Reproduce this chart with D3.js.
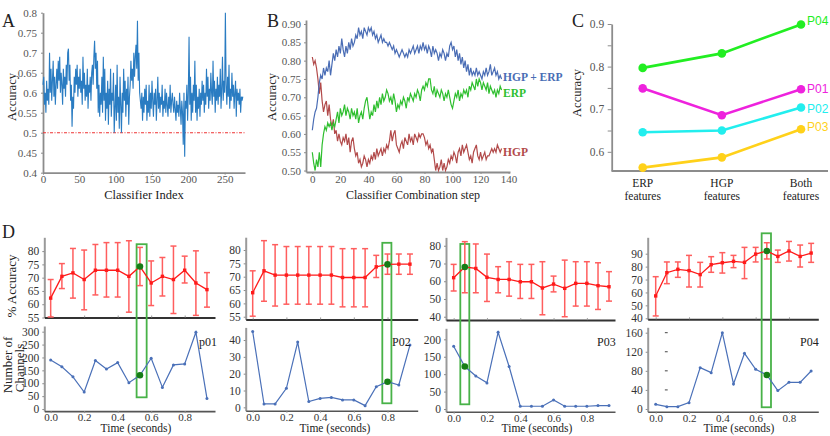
<!DOCTYPE html>
<html><head><meta charset="utf-8">
<script src="https://cdn.jsdelivr.net/npm/d3@7"></script>
<style>body{margin:0;background:#fff}svg{display:block;background:#fff}</style>
</head><body><svg id="c" width="830" height="436"></svg>
<script>
// ---------- DATA ----------
// Panel A: accuracy of each classifier
const classifierAccuracy = [
0.62,0.64,0.57,0.60,0.55,0.63,0.58,0.61,0.57,0.70,0.60,0.66,0.58,0.63,0.68,0.59,0.64,0.57,0.62,0.66,
0.61,0.68,0.63,0.69,0.60,0.65,0.62,0.57,0.66,0.61,0.64,0.59,0.67,0.62,0.70,0.71,0.63,0.67,0.58,0.62,
0.515,0.59,0.56,0.64,0.60,0.66,0.62,0.67,0.59,0.64,0.61,0.66,0.60,0.63,0.57,0.69,0.61,0.65,0.58,0.62,
0.59,0.66,0.56,0.62,0.60,0.64,0.58,0.65,0.67,0.62,0.69,0.73,0.66,0.70,0.61,0.68,0.55,0.62,0.54,0.60,
0.57,0.64,0.55,0.69,0.58,0.66,0.53,0.60,0.56,0.63,0.52,0.61,0.57,0.66,0.54,0.60,0.58,0.65,0.50,0.56,
0.62,0.53,0.67,0.55,0.59,0.51,0.64,0.57,0.50,0.60,0.55,0.66,0.58,0.63,0.54,0.61,0.57,0.64,0.52,0.59,
0.62,0.68,0.63,0.66,0.61,0.70,0.64,0.69,0.72,0.66,0.78,0.63,0.70,0.60,0.58,0.56,0.60,0.53,0.59,0.55,
0.61,0.57,0.62,0.53,0.58,0.55,0.62,0.54,0.60,0.56,0.63,0.58,0.54,0.60,0.57,0.61,0.53,0.58,0.64,0.56,
0.60,0.55,0.59,0.57,0.62,0.54,0.58,0.56,0.61,0.55,0.60,0.57,0.54,0.59,0.56,0.62,0.55,0.58,0.60,0.57,
0.55,0.59,0.56,0.53,0.58,0.55,0.57,0.54,0.60,0.56,0.52,0.58,0.55,0.47,0.60,0.44,0.58,0.56,0.62,0.53,
0.60,0.74,0.57,0.64,0.53,0.60,0.55,0.62,0.58,0.68,0.55,0.62,0.53,0.59,0.56,0.61,0.54,0.60,0.57,0.63,
0.58,0.62,0.55,0.60,0.57,0.66,0.59,0.64,0.56,0.61,0.58,0.65,0.60,0.57,0.68,0.59,0.63,0.55,0.61,0.58,
0.64,0.57,0.62,0.59,0.66,0.56,0.61,0.69,0.58,0.63,0.60,0.80,0.62,0.57,0.64,0.59,0.67,0.56,0.61,0.58,
0.65,0.59,0.62,0.56,0.60,0.63,0.54,0.61,0.58,0.60,0.57,0.61,0.55,0.59,0.58,0.59];
const chanceLevel = 0.5;
const ticksAx = [0,50,100,150,200,250];
const ticksAy = [0.4,0.45,0.5,0.55,0.6,0.65,0.7,0.75,0.8];

// Panel B: accuracy per combination step
const stepHgpErp = [
0.61,0.64,0.66,0.67,0.70,0.74,0.76,0.75,0.78,0.76,
0.78,0.77,0.80,0.76,0.79,0.82,0.80,0.83,0.81,0.84,
0.82,0.86,0.83,0.81,0.84,0.82,0.85,0.83,0.86,0.84,
0.85,0.87,0.86,0.89,0.87,0.88,0.86,0.89,0.88,0.87,
0.89,0.88,0.89,0.87,0.88,0.86,0.87,0.85,0.86,0.87,
0.85,0.86,0.85,0.85,0.84,0.85,0.84,0.83,0.84,0.82,
0.83,0.82,0.81,0.82,0.83,0.82,0.81,0.82,0.81,0.83,
0.82,0.83,0.84,0.82,0.83,0.84,0.82,0.84,0.83,0.85,
0.83,0.84,0.82,0.84,0.83,0.81,0.84,0.82,0.83,0.82,
0.80,0.82,0.81,0.83,0.82,0.80,0.82,0.81,0.84,0.85,
0.83,0.84,0.81,0.83,0.80,0.82,0.79,0.81,0.78,0.80,
0.77,0.79,0.76,0.78,0.76,0.77,0.76,0.78,0.76,0.77,
0.76,0.75,0.77,0.76,0.78,0.76,0.77,0.79,0.76,0.77,
0.78,0.76,0.77,0.75,0.76,0.75];
const stepErp = [
0.55,0.52,0.50,0.53,0.51,0.55,0.51,0.57,0.60,0.62,
0.61,0.63,0.62,0.63,0.61,0.63,0.62,0.64,0.66,0.63,
0.67,0.65,0.66,0.68,0.65,0.67,0.66,0.64,0.67,0.65,
0.66,0.64,0.67,0.63,0.65,0.66,0.64,0.67,0.69,0.70,
0.67,0.64,0.66,0.65,0.68,0.66,0.69,0.67,0.70,0.68,
0.71,0.69,0.70,0.72,0.71,0.69,0.70,0.68,0.71,0.69,
0.66,0.68,0.67,0.69,0.68,0.70,0.69,0.67,0.70,0.69,
0.71,0.70,0.69,0.71,0.70,0.72,0.71,0.69,0.72,0.73,
0.72,0.74,0.73,0.75,0.75,0.72,0.71,0.73,0.70,0.72,
0.71,0.70,0.72,0.71,0.69,0.71,0.70,0.72,0.70,0.68,
0.67,0.69,0.71,0.70,0.72,0.69,0.71,0.70,0.72,0.71,
0.72,0.70,0.73,0.72,0.74,0.73,0.72,0.75,0.73,0.75,
0.74,0.72,0.74,0.73,0.72,0.74,0.71,0.73,0.72,0.71,
0.72,0.70,0.72,0.71,0.73,0.72];
const stepHgp = [
0.81,0.79,0.80,0.78,0.75,0.71,0.74,0.69,0.66,0.68,
0.69,0.65,0.68,0.64,0.62,0.64,0.60,0.61,0.58,0.60,
0.58,0.57,0.59,0.58,0.60,0.57,0.59,0.55,0.58,0.59,
0.56,0.54,0.55,0.52,0.53,0.51,0.52,0.54,0.53,0.51,
0.53,0.52,0.54,0.53,0.55,0.53,0.56,0.54,0.55,0.56,
0.54,0.56,0.55,0.57,0.56,0.58,0.61,0.58,0.60,0.61,
0.57,0.56,0.55,0.57,0.58,0.56,0.59,0.58,0.57,0.60,
0.58,0.59,0.57,0.60,0.59,0.58,0.60,0.59,0.60,0.60,
0.59,0.57,0.58,0.56,0.57,0.55,0.56,0.53,0.50,0.52,
0.50,0.51,0.53,0.50,0.52,0.50,0.51,0.53,0.52,0.54,
0.53,0.55,0.54,0.52,0.55,0.56,0.54,0.57,0.55,0.56,
0.57,0.55,0.53,0.54,0.52,0.55,0.56,0.57,0.54,0.53,
0.55,0.53,0.54,0.55,0.53,0.54,0.54,0.55,0.56,0.55,
0.56,0.55,0.57,0.56,0.55,0.56];
const ticksBx = [0,20,40,60,80,100,120,140];
const ticksBy = [0.50,0.55,0.60,0.65,0.70,0.75,0.80,0.85,0.90];

// Panel C
const featureSets = ["ERP","HGP","Both"];
const featureLabels = [["ERP","features"],["HGP","features"],["Both","features"]];
const participantsC = ["P04","P01","P02","P03"];
const accP04 = [0.797,0.831,0.899];
const accP01 = [0.749,0.686,0.747];
const accP02 = [0.646,0.650,0.704];
const accP03 = [0.563,0.587,0.653];
const ticksCy = [0.6,0.65,0.7,0.75,0.8,0.85,0.9];

// Panel D
const timePoints = [0,0.067,0.133,0.2,0.267,0.333,0.4,0.467,0.533,0.6,0.667,0.733,0.8,0.867,0.933];
const ticksDx = [0,0.2,0.4,0.6,0.8];
const d1Mean = [62.3,70.5,71.8,69.3,72.8,72.8,72.8,70.5,74.2,68.0,70.5,69.3,72.8,68.0,65.5];
const d1Low  = [55.2,65.9,62.3,57.9,63.5,62.7,62.7,57.0,67.0,59.5,63.1,56.5,68.0,55.8,58.9];
const d1High = [69.3,75.3,81.0,80.4,82.5,83.2,83.2,83.9,81.4,76.3,77.6,81.9,78.1,80.1,71.9];
const d1Channels = [190,164,125,66,188,155,180,102,131,197,84,171,175,298,41];
const d2Mean = [64.0,72.2,70.6,70.6,70.6,70.6,70.6,70.6,69.7,69.7,69.7,73.7,74.6,74.7,74.7];
const d2Low  = [55.2,60.8,59.0,59.7,59.7,59.7,59.7,59.7,58.7,58.7,58.7,69.7,70.9,70.9,70.9];
const d2High = [72.2,83.5,82.0,81.3,81.3,81.3,81.3,81.3,80.5,80.5,80.5,78.0,78.5,78.5,78.5];
const d2Channels = [45,2,2,11.3,38.8,3.4,5.3,5.9,4.4,4.4,1,12.3,15.2,13.3,37];
const d3Mean = [62.0,68.0,67.2,62.2,61.0,61.0,59.7,59.7,56.2,58.4,56.0,58.8,58.8,57.5,56.9];
const d3Low  = [54.5,53.5,53.5,48.6,53.5,51.6,50.3,50.3,41.1,54.0,40.0,46.0,46.0,44.1,48.8];
const d3High = [69.5,82.3,81.0,75.3,68.2,71.0,69.5,69.5,71.0,62.9,71.9,71.0,71.0,70.4,65.4];
const d3Channels = [180,122,95,75,220,122,8,8,8,26,8,8,8,10,10];
const d4Mean = [57.3,75.3,77.9,76.9,73.8,81.5,83.0,84.1,83.3,89.7,92.1,87.9,92.1,87.9,90.5];
const d4Low  = [41.8,66.8,71.7,64.2,64.2,75.6,75.0,79.2,70.7,83.6,85.9,83.3,84.3,79.7,83.3];
const d4High = [72.2,83.6,83.6,88.7,83.3,87.7,90.8,88.7,94.9,94.9,98.5,92.8,99.5,96.7,98.0];
const d4Channels = [9.8,4.9,4.9,13.3,86.7,76.2,160,52.4,116.8,83.2,71.3,38.5,55.9,55.9,79.7];
const dNames = ["p01","P02","P03","P04"];
const dBest = [8,12,1,10];

// ---------- DRAWING ----------
const SERIF = "Liberation Serif";
const SANS = "Liberation Sans";
const svg = d3.select("#c");
svg.append("rect").attr("width",830).attr("height",436).attr("fill","#fff");

function styleAxis(g, o) {
  g.attr("font-family", SERIF).attr("font-size", o.fs || 11);
  g.select(".domain").attr("stroke", o.line || "#8c8c8c").attr("stroke-width", o.lw || 1.8);
  g.selectAll(".tick line").attr("stroke", o.tick || "#8c8c8c");
  g.selectAll(".tick text").attr("fill", o.text || "#555");
}
function label(x, y, txt, o = {}) {
  const t = svg.append("text").attr("x", x).attr("y", y).text(txt)
    .attr("font-family", o.ff || SERIF).attr("font-size", o.fs || 12)
    .attr("fill", o.fill || "#222").attr("text-anchor", o.anchor || "start");
  if (o.bold) t.attr("font-weight", "bold");
  return t;
}
function vlabel(x, y, txt, fs) {
  svg.append("text").attr("transform", `translate(${x},${y}) rotate(-90)`)
    .attr("text-anchor", "middle").attr("font-family", SERIF).attr("font-size", fs || 12)
    .attr("fill", "#222").text(txt);
}

// ----- Panel A -----
{
  const x = d3.scaleLinear([0, 278], [43, 245]);
  const y = d3.scaleLinear([0.4, 0.8], [172.7, 12.7]);
  const gx = svg.append("g").attr("transform", "translate(0,172.7)")
    .call(d3.axisBottom(x).tickValues(ticksAx).tickSize(2).tickSizeOuter(0));
  gx.selectAll(".tick text").attr("y", 10.5).attr("dy", 0);
  styleAxis(gx, {});
  const gy = svg.append("g").attr("transform", "translate(43,0)")
    .call(d3.axisLeft(y).tickValues(ticksAy).tickSize(2).tickSizeOuter(0).tickPadding(4)
      .tickFormat(d => String(+d.toFixed(2))));
  styleAxis(gy, {});
  svg.append("line").attr("x1", x(0)).attr("x2", x(278)).attr("y1", y(chanceLevel)).attr("y2", y(chanceLevel))
    .attr("stroke", "#ee3333").attr("stroke-width", 1.1).attr("stroke-dasharray", "3,1.5,1,1.5");
  svg.append("path").datum(classifierAccuracy)
    .attr("d", d3.line().x((d, i) => x(i)).y(d => y(d)))
    .attr("fill", "none").attr("stroke", "#2a7cc2").attr("stroke-width", 1.1);
  label(2, 27, "A", {fs: 18});
  vlabel(16, 97, "Accuracy", 12.5);
  label(144, 199, "Classifier Index", {fs: 12.5, anchor: "middle"});
}

// ----- Panel B -----
{
  const x = d3.scaleLinear([-4.5, 141], [306, 510]);
  const y = d3.scaleLinear([0.496, 0.911], [172, 20]);
  const gx = svg.append("g").attr("transform", "translate(0,172)")
    .call(d3.axisBottom(x).tickValues(ticksBx).tickSize(2).tickSizeOuter(0));
  gx.selectAll(".tick text").attr("y", 10.5).attr("dy", 0);
  styleAxis(gx, {});
  const gy = svg.append("g").attr("transform", "translate(306,0)")
    .call(d3.axisLeft(y).tickValues(ticksBy).tickSize(2).tickSizeOuter(0).tickPadding(3)
      .tickFormat(d3.format(".2f")));
  styleAxis(gy, {});
  const line = d3.line().x((d, i) => x(i)).y(d => y(d));
  [[stepHgp, "#b24a4a"], [stepErp, "#2fbf2f"], [stepHgpErp, "#4a6db5"]].forEach(([s, c]) => {
    svg.append("path").datum(s).attr("d", line).attr("fill", "none")
      .attr("stroke", c).attr("stroke-width", 1.2);
  });
  label(267, 27, "B", {fs: 18});
  vlabel(276, 97, "Accuracy", 12.5);
  label(413, 199, "Classifier Combination step", {fs: 12, anchor: "middle"});
  label(503, 81, "HGP + ERP", {fs: 11.5, bold: true, fill: "#4a6db5"});
  label(503, 97, "ERP", {fs: 11.5, bold: true, fill: "#2fbf2f"});
  label(503, 156, "HGP", {fs: 11.5, bold: true, fill: "#b24a4a"});
}

// ----- Panel C -----
{
  const x = d3.scalePoint(featureSets, [642.7, 801]);
  const y = d3.scaleLinear([0.555, 0.9], [171, 24]);
  svg.append("line").attr("x1", 611.7).attr("x2", 828).attr("y1", 171).attr("y2", 171)
    .attr("stroke", "#8c8c8c").attr("stroke-width", 1.8);
  const gy = svg.append("g").attr("transform", "translate(611.7,0)")
    .call(d3.axisLeft(y).tickValues(ticksCy).tickSize(4).tickSizeOuter(0).tickPadding(3.5)
      .tickFormat(d => (Math.round(d * 100) % 10 === 0) ? d3.format(".1f")(d) : ""));
  styleAxis(gy, {fs: 11.5});
  const series = [accP04, accP01, accP02, accP03];
  const colors = ["#22ee22", "#ee22dd", "#22eeee", "#ffd11a"];
  const labY = [25, 93, 113, 131];
  series.forEach((s, k) => {
    const pts = s.map((v, i) => [x(featureSets[i]), y(v)]);
    svg.append("path").attr("d", d3.line()(pts)).attr("fill", "none")
      .attr("stroke", colors[k]).attr("stroke-width", 2.6);
    svg.selectAll(null).data(pts).join("circle").attr("cx", d => d[0]).attr("cy", d => d[1])
      .attr("r", 4.3).attr("fill", colors[k]);
    label(807, labY[k], participantsC[k], {ff: SANS, fs: 12, fill: colors[k]});
  });
  featureLabels.forEach((l, i) => {
    label(x(featureSets[i]), 187, l[0], {fs: 11.5, anchor: "middle"});
    label(x(featureSets[i]), 200, l[1], {fs: 11.5, anchor: "middle"});
  });
  label(572, 27, "C", {fs: 18});
  vlabel(581, 93, "Accuracy", 12.5);
}

// ----- Panel D -----
const dData = [
  [d1Mean, d1Low, d1High, d1Channels],
  [d2Mean, d2Low, d2High, d2Channels],
  [d3Mean, d3Low, d3High, d3Channels],
  [d4Mean, d4Low, d4High, d4Channels]];
const dLayout = [
  {x0: 44.3, xEnd: 215, tDom: [-0.038, 0.981], topDom: [55, 85.2], topR: [317.5, 237.3], topTicks: [55,60,65,70,75,80],
   botDom: [-8, 322], botR: [411.1, 326], botTicks: [0,50,100,150,200,250,300], rect: [82.6, 45.4], rectDx: [-0.02, 0.04], nameX: 199, xlab: 136},
  {x0: 245.7, xEnd: 417.7, tDom: [-0.0415, 0.979], topDom: [54, 84.8], topR: [319.4, 237.2], topTicks: [55,60,65,70,75,80],
   botDom: [-2, 47.5], botR: [410.7, 327.4], botTicks: [0,10,20,30,40], rect: [82.7, 2.4], rectDx: [-0.031, 0.023], nameX: 392, xlab: 335},
  {x0: 446, xEnd: 615, tDom: [-0.046, 0.969], topDom: [38.1, 84.7], topR: [320.1, 237.4], topTicks: [40,50,60,70,80],
   botDom: [-7.7, 231.6], botR: [411.7, 328.3], botTicks: [0,50,100,150,200], rect: [81, 13.5], rectDx: [-0.027, 0.027], nameX: 597, xlab: 537},
  {x0: 647.7, xEnd: 818.3, tDom: [-0.048, 0.976], topDom: [39.2, 102.7], topR: [319.3, 237.3], topTicks: [40,50,60,70,80,90],
   botDom: [-5.7, 171.3], botR: [411.7, 327.3], botTicks: [0,40,80,120,160], rect: [105.8, 3.6], rectDx: [-0.031, 0.025], nameX: 800, xlab: 739, marks: true}
];
dLayout.forEach((L, p) => {
  const [mean, low, high, chan] = dData[p];
  const best = dBest[p];
  const x = d3.scaleLinear(L.tDom, [L.x0, L.xEnd]);
  const yT = d3.scaleLinear(L.topDom, L.topR);
  const yB = d3.scaleLinear(L.botDom, L.botR);
  const gyT = svg.append("g").attr("transform", `translate(${L.x0},0)`)
    .call(d3.axisLeft(yT).tickValues(L.topTicks).tickSize(2).tickSizeOuter(0).tickPadding(3));
  styleAxis(gyT, {fs: 11.5, text: "#333", line: "#9a9a9a", lw: 2});
  const gyB = svg.append("g").attr("transform", `translate(${L.x0},0)`)
    .call(d3.axisLeft(yB).tickValues(L.botTicks).tickSize(2).tickSizeOuter(0).tickPadding(3));
  styleAxis(gyB, {fs: 11.5, text: "#333", line: "#9a9a9a", lw: 2});
  const gxT = svg.append("g").attr("transform", `translate(0,${L.topR[0]})`)
    .call(d3.axisBottom(x).tickValues(ticksDx).tickSize(-2).tickSizeOuter(0).tickFormat(""));
  styleAxis(gxT, {line: "#333", lw: 2, tick: "#999"});
  const gxB = svg.append("g").attr("transform", `translate(0,${L.botR[0]})`)
    .call(d3.axisBottom(x).tickValues(ticksDx).tickSize(2).tickSizeOuter(0).tickFormat(d3.format(".1f")));
  gxB.selectAll(".tick text").attr("y", 9.8).attr("dy", 0);
  styleAxis(gxB, {fs: 11, text: "#333", line: "#555", lw: 1.6});
  if (L.marks) {
    L.botTicks.filter(v => v > 0).forEach(v => {
      svg.append("line").attr("x1", x(0.055)).attr("x2", x(0.072)).attr("y1", yB(v)).attr("y2", yB(v))
        .attr("stroke", "#444").attr("stroke-width", 1);
    });
  }
  const tb = timePoints[best];
  svg.append("rect").attr("x", x(tb + L.rectDx[0])).attr("y", yT(L.rect[0]))
    .attr("width", x(tb + L.rectDx[1]) - x(tb + L.rectDx[0]))
    .attr("height", yB(L.rect[1]) - yT(L.rect[0]))
    .attr("fill", "none").attr("stroke", "#48b248").attr("stroke-width", 1.8);
  const eb = svg.append("g").attr("stroke", "#ff5e5e").attr("stroke-width", 1.5);
  timePoints.forEach((t, i) => {
    const cx = x(t);
    eb.append("line").attr("x1", cx).attr("x2", cx).attr("y1", yT(low[i])).attr("y2", yT(high[i]));
    eb.append("line").attr("x1", cx - 3).attr("x2", cx + 3).attr("y1", yT(low[i])).attr("y2", yT(low[i]));
    eb.append("line").attr("x1", cx - 3).attr("x2", cx + 3).attr("y1", yT(high[i])).attr("y2", yT(high[i]));
  });
  svg.append("path").datum(mean).attr("d", d3.line().x((d, i) => x(timePoints[i])).y(d => yT(d)))
    .attr("fill", "none").attr("stroke", "#ff1a1a").attr("stroke-width", 1.3);
  svg.selectAll(null).data(mean).join("rect")
    .attr("x", (d, i) => x(timePoints[i]) - 1.7).attr("y", d => yT(d) - 1.7)
    .attr("width", 3.4).attr("height", 3.4).attr("fill", "#ff1a1a");
  svg.append("circle").attr("cx", x(tb)).attr("cy", yT(mean[best])).attr("r", 3.3).attr("fill", "#167d16");
  svg.append("path").datum(chan).attr("d", d3.line().x((d, i) => x(timePoints[i])).y(d => yB(d)))
    .attr("fill", "none").attr("stroke", "#4a70b8").attr("stroke-width", 1.2);
  svg.selectAll(null).data(chan).join("circle")
    .attr("cx", (d, i) => x(timePoints[i])).attr("cy", d => yB(d)).attr("r", 1.5).attr("fill", "#4a70b8");
  svg.append("circle").attr("cx", x(tb)).attr("cy", yB(chan[best])).attr("r", 3.3).attr("fill", "#167d16");
  label(L.nameX, 346, dNames[p], {fs: 12});
  label(L.xlab, 432, "Time (seconds)", {fs: 11.5, anchor: "middle"});
});
label(2, 238, "D", {fs: 18});
vlabel(16, 286, "% Accuracy", 13);
vlabel(12, 365, "Number of", 13);
vlabel(24, 368, "Channels", 13);
</script></body></html>
